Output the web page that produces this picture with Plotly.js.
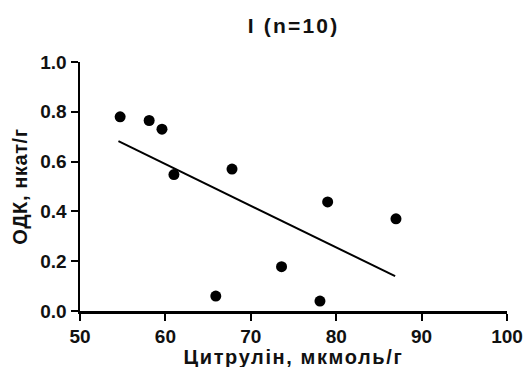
<!DOCTYPE html>
<html><head><meta charset="utf-8">
<script src="https://cdn.plot.ly/plotly-3.0.1.min.js"></script>
<style>
html,body{margin:0;padding:0;background:#fff}#chart{width:524px;height:367px}
#chart .gtitle{letter-spacing:2.2px}
#chart .annotation-text{letter-spacing:1.6px}
#chart .ytitle{letter-spacing:0.6px}
</style>
</head><body><div id="chart"></div>
<script>
var citrulline = [54.7, 58.1, 59.6, 61.0, 67.8, 79.0, 87.0, 73.6, 65.9, 78.1];
var odk = [0.78, 0.765, 0.73, 0.548, 0.57, 0.438, 0.37, 0.178, 0.06, 0.04];
var fitX = [54.5, 86.9];
var fitY = [0.682, 0.14];
var xTicks = [50, 60, 70, 80, 90, 100];
var yTicks = [0.0, 0.2, 0.4, 0.6, 0.8, 1.0];
var xTitle = 'Цитрулін, мкмоль/г';
var yTitle = 'ОДК, нкат/г';
var chartTitle = 'I (n=10)';

var fnt = {family: 'Liberation Sans, Arial, sans-serif', color: '#111', weight: 700};
var traces = [
  {x: fitX, y: fitY, mode: 'lines', line: {color: '#000', width: 2}, hoverinfo: 'skip'},
  {x: citrulline, y: odk, mode: 'markers', marker: {color: '#000', size: 11, symbol: 'circle'}}
];
var layout = {
  width: 524, height: 367,
  margin: {l: 80, r: 17, t: 62, b: 56},
  showlegend: false,
  paper_bgcolor: '#fff', plot_bgcolor: '#fff',
  title: {text: chartTitle, font: Object.assign({}, fnt, {size: 21}), x: 0.5, xref: 'paper', xanchor: 'center', y: 1 - 26/367, yref: 'container', yanchor: 'middle'},
  xaxis: {
    range: [50, 100], tickvals: xTicks, ticktext: xTicks.map(String),
    showgrid: false, zeroline: false, showline: true, linecolor: '#000', linewidth: 2.5,
    ticks: 'outside', ticklen: 7, tickwidth: 2, tickcolor: '#000',
    tickfont: Object.assign({}, fnt, {size: 19})
  },
  yaxis: {
    range: [0, 1], tickvals: yTicks, ticktext: yTicks.map(function(v){return v.toFixed(1);}),
    showgrid: false, zeroline: false, showline: true, linecolor: '#000', linewidth: 2.5,
    ticks: 'outside', ticklen: 7, tickwidth: 2, tickcolor: '#000',
    tickfont: Object.assign({}, fnt, {size: 19}),
    title: {text: yTitle, font: Object.assign({}, fnt, {size: 20}), standoff: 8}
  },
  annotations: [{
    text: xTitle, xref: 'paper', yref: 'paper', x: 0.5, y: 0,
    xanchor: 'center', yanchor: 'top', yshift: -33, showarrow: false,
    font: Object.assign({}, fnt, {size: 20})
  }]
};
Plotly.newPlot('chart', traces, layout, {displayModeBar: false, staticPlot: true});
</script></body></html>
